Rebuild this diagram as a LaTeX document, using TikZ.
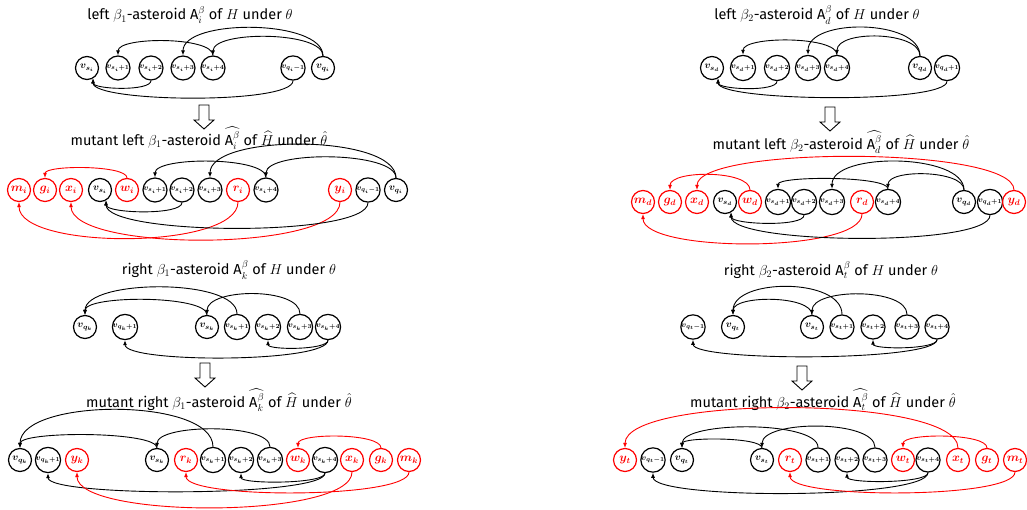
\documentclass[tikz,border=0pt]{standalone}
\usepackage{amsmath}
\usepackage{fontspec}
\setmainfont{Fira Sans}
\usetikzlibrary{arrows.meta}

\tikzset{
  vx/.style={circle,draw,line width=1.2pt,minimum size=23pt,inner sep=0pt,font=\boldmath\normalsize},
  vs/.style={vx,font=\boldmath\footnotesize},
  rx/.style={vx,draw=red,text=red,font=\boldmath\large},
  edge/.style={-{Latex[length=5pt,width=4pt]},line width=0.9pt},
  redge/.style={edge,red},
  hop/.style={to path={.. controls +(0,-#1) and +(0,-#1) .. (\tikztotarget)}},
  dip/.style={to path={.. controls +(0,#1) and +(0,#1) .. (\tikztotarget)}},
  ttl/.style={font=\fontsize{14.5}{17}\selectfont},
  hollow/.style={draw,line width=0.9pt,fill=white}
}

% hollow arrow pointing down, top centre at (#1,#2)
\newcommand{\hollowdown}[2]{\draw[hollow] ({#1-5},#2) -- ({#1+5},#2) -- ({#1+5},{#2+15}) -- ({#1+10},{#2+15}) -- (#1,{#2+24}) -- ({#1-10},{#2+15}) -- ({#1-5},{#2+15}) -- cycle;}

\begin{document}
\begin{tikzpicture}[x=1pt,y=-1pt]
  \useasboundingbox (0,0) rectangle (1027,510);

  % left beta_1
  \node[ttl] (t1) at (190,15) {left $\beta_1$-asteroid $\text{A}_i^{\beta}$ of $H$ under $\theta$};
  \node[vx] (L1s0) at (87,68) {$v_{s_i}$};
  \node[vs] (L1s1) at (118,68) {$v_{s_i+1}$};
  \node[vs] (L1s2) at (151,68) {$v_{s_i+2}$};
  \node[vs] (L1s3) at (183,68) {$v_{s_i+3}$};
  \node[vs] (L1s4) at (213,68) {$v_{s_i+4}$};
  \node[vs] (L1qm) at (293,68) {$v_{q_i-1}$};
  \node[vx] (L1q) at (323,68) {$v_{q_i}$};
  \draw[edge] (L1s4.north) to[hop=19] (L1s1.north);
  \draw[edge] (L1q.north) to[hop=37] (L1s3.north);
  \draw[edge] (L1q.north) to[hop=25] (L1s4.north);
  \draw[edge] (L1s2.south) to[dip=11] (L1s0.-60);
  \draw[edge] (L1qm.south) to[dip=24] (L1s0.-60);
  \hollowdown{204}{105}

  % mutant left beta_1
  \node[ttl] (t2) at (199,138) {mutant left $\beta_1$-asteroid $\widehat{\text{A}_i^{\beta}}$ of $\widehat{H}$ under $\hat{\theta}$};
  \node[rx] (ML1m) at (19,190) {$m_i$};
  \node[rx] (ML1g) at (45,190) {$g_i$};
  \node[rx] (ML1x) at (71,190) {$x_i$};
  \node[vx] (ML1s0) at (100,190) {$v_{s_i}$};
  \node[rx] (ML1w) at (127,190) {$w_i$};
  \node[vs] (ML1s1) at (155,190) {$v_{s_i+1}$};
  \node[vs] (ML1s2) at (182,190) {$v_{s_i+2}$};
  \node[vs] (ML1s3) at (210,190) {$v_{s_i+3}$};
  \node[rx] (ML1r) at (238,190) {$r_i$};
  \node[vs] (ML1s4) at (266,190) {$v_{s_i+4}$};
  \node[rx] (ML1y) at (340,190) {$y_i$};
  \node[vs] (ML1qm) at (368,190) {$v_{q_i-1}$};
  \node[vx] (ML1q) at (396,190) {$v_{q_i}$};
  \draw[redge] (ML1w.north) to[hop=13] (ML1g.north);
  \draw[redge] (ML1r.south) to[dip=48] (ML1m.south);
  \draw[redge] (ML1y.south) to[dip=50] (ML1x.south);
  \draw[edge] (ML1s4.north) to[hop=21] (ML1s1.north);
  \draw[edge] (ML1q.north) to[hop=44] (ML1s3.north);
  \draw[edge] (ML1q.north) to[hop=27] (ML1s4.north);
  \draw[edge] (ML1s2.south) to[dip=13] (ML1s0.-60);
  \draw[edge] (ML1qm.south) to[dip=35] (ML1s0.-60);

  % right beta_1
  \node[ttl] (t3) at (229,270) {right $\beta_1$-asteroid $\text{A}_k^{\beta}$ of $H$ under $\theta$};
  \node[vx] (R1q) at (85,327) {$v_{q_k}$};
  \node[vs] (R1qp) at (125,327) {$v_{q_k+1}$};
  \node[vx] (R1s0) at (207,327) {$v_{s_k}$};
  \node[vs] (R1s1) at (237,327) {$v_{s_k+1}$};
  \node[vs] (R1s2) at (268,327) {$v_{s_k+2}$};
  \node[vs] (R1s3) at (300,327) {$v_{s_k+3}$};
  \node[vs] (R1s4) at (328,327) {$v_{s_k+4}$};
  \draw[edge] (R1s1.north) to[hop=36] (R1q.north);
  \draw[edge] (R1s0.north) to[hop=20] (R1q.north);
  \draw[edge] (R1s3.north) to[hop=27] (R1s0.north);
  \draw[edge] (R1s4.south) to[dip=10] (R1s2.south);
  \draw[edge] (R1s4.south) to[dip=23] (R1qp.south);
  \hollowdown{205}{363}

  % mutant right beta_1
  \node[ttl] (t4) at (219,400) {mutant right $\beta_1$-asteroid $\widehat{\text{A}_k^{\beta}}$ of $\widehat{H}$ under $\hat{\theta}$};
  \node[vx] (MR1q) at (20,460) {$v_{q_k}$};
  \node[vs] (MR1qp) at (48,460) {$v_{q_k+1}$};
  \node[rx] (MR1y) at (77,460) {$y_k$};
  \node[vx] (MR1s0) at (157,460) {$v_{s_k}$};
  \node[rx] (MR1r) at (186,460) {$r_k$};
  \node[vs] (MR1s1) at (213,460) {$v_{s_k+1}$};
  \node[vs] (MR1s2) at (241,460) {$v_{s_k+2}$};
  \node[vs] (MR1s3) at (270,460) {$v_{s_k+3}$};
  \node[rx] (MR1w) at (298,460) {$w_k$};
  \node[vs] (MR1s4) at (325,460) {$v_{s_k+4}$};
  \node[rx] (MR1x) at (352,460) {$x_k$};
  \node[rx] (MR1g) at (381,460) {$g_k$};
  \node[rx] (MR1m) at (409,460) {$m_k$};
  \draw[edge] (MR1s1.north) to[hop=50] (MR1q.north);
  \draw[edge] (MR1s0.north) to[hop=17] (MR1q.north);
  \draw[edge] (MR1s3.north) to[hop=24] (MR1s0.north);
  \draw[edge] (MR1s4.south) to[dip=11] (MR1s2.south);
  \draw[edge] (MR1s4.south) to[dip=24] (MR1qp.south);
  \draw[redge] (MR1g.north) to[hop=15] (MR1w.north);
  \draw[redge] (MR1m.south) to[dip=27] (MR1r.south);
  \draw[redge] (MR1x.south) to[dip=47] (MR1y.south);

  % left beta_2
  \node[ttl] (t5) at (817,15) {left $\beta_2$-asteroid $\text{A}_d^{\beta}$ of $H$ under $\theta$};
  \node[vx] (L2s0) at (712,68) {$v_{s_d}$};
  \node[vs] (L2s1) at (743,68) {$v_{s_d+1}$};
  \node[vs] (L2s2) at (777,68) {$v_{s_d+2}$};
  \node[vs] (L2s3) at (808,68) {$v_{s_d+3}$};
  \node[vs] (L2s4) at (837,68) {$v_{s_d+4}$};
  \node[vx] (L2q) at (920,68) {$v_{q_d}$};
  \node[vs] (L2qp) at (947,68) {$v_{q_d+1}$};
  \draw[edge] (L2s4.north) to[hop=19] (L2s1.north);
  \draw[edge] (L2q.north) to[hop=37] (L2s3.north);
  \draw[edge] (L2q.north) to[hop=25] (L2s4.north);
  \draw[edge] (L2s2.south) to[dip=11] (L2s0.-60);
  \draw[edge] (L2qp.south) to[dip=23] (L2s0.-60);
  \hollowdown{830}{107}

  % mutant left beta_2
  \node[ttl] (t6) at (841,142) {mutant left $\beta_2$-asteroid $\widehat{\text{A}_d^{\beta}}$ of $\widehat{H}$ under $\hat{\theta}$};
  \node[rx] (ML2m) at (643,202) {$m_d$};
  \node[rx] (ML2g) at (670,202) {$g_d$};
  \node[rx] (ML2x) at (697,202) {$x_d$};
  \node[vx] (ML2s0) at (725,202) {$v_{s_d}$};
  \node[rx] (ML2w) at (750,202) {$w_d$};
  \node[vs] (ML2s1) at (778,202) {$v_{s_d+1}$};
  \node[vs] (ML2s2) at (804,202) {$v_{s_d+2}$};
  \node[vs] (ML2s3) at (832,202) {$v_{s_d+3}$};
  \node[rx] (ML2r) at (862,202) {$r_d$};
  \node[vs] (ML2s4) at (888,202) {$v_{s_d+4}$};
  \node[vx] (ML2q) at (964,202) {$v_{q_d}$};
  \node[vs] (ML2qp) at (990,202) {$v_{q_d+1}$};
  \node[rx] (ML2y) at (1014,202) {$y_d$};
  \draw[redge] (ML2w.north) to[hop=20] (ML2g.north);
  \draw[redge] (ML2y.north) to[hop=44] (ML2x.north);
  \draw[redge] (ML2r.south) to[dip=39] (ML2m.south);
  \draw[edge] (ML2s4.north) to[hop=13] (ML2s1.north);
  \draw[edge] (ML2q.north) to[hop=37] (ML2s3.north);
  \draw[edge] (ML2q.north) to[hop=20] (ML2s4.north);
  \draw[edge] (ML2s2.south) to[dip=12] (ML2s0.-60);
  \draw[edge] (ML2qp.south) to[dip=32] (ML2s0.-60);

  % right beta_2
  \node[ttl] (t7) at (831,270) {right $\beta_2$-asteroid $\text{A}_t^{\beta}$ of $H$ under $\theta$};
  \node[vs] (R2qm) at (693,327) {$v_{q_t-1}$};
  \node[vx] (R2q) at (733,327) {$v_{q_t}$};
  \node[vx] (R2s0) at (812,327) {$v_{s_t}$};
  \node[vs] (R2s1) at (842,327) {$v_{s_t+1}$};
  \node[vs] (R2s2) at (873,327) {$v_{s_t+2}$};
  \node[vs] (R2s3) at (907,327) {$v_{s_t+3}$};
  \node[vs] (R2s4) at (937,327) {$v_{s_t+4}$};
  \draw[edge] (R2s1.north) to[hop=37] (R2q.north);
  \draw[edge] (R2s0.north) to[hop=20] (R2q.north);
  \draw[edge] (R2s3.north) to[hop=27] (R2s0.north);
  \draw[edge] (R2s4.south) to[dip=10] (R2s2.south);
  \draw[edge] (R2s4.south) to[dip=22] (R2qm.south);
  \hollowdown{802}{366}

  % mutant right beta_2
  \node[ttl] (t8) at (823,400) {mutant right $\beta_2$-asteroid $\widehat{\text{A}_t^{\beta}}$ of $\widehat{H}$ under $\hat{\theta}$};
  \node[rx] (MR2y) at (625,460) {$y_t$};
  \node[vs] (MR2qm) at (653,460) {$v_{q_t-1}$};
  \node[vx] (MR2q) at (682,460) {$v_{q_t}$};
  \node[vx] (MR2s0) at (762,460) {$v_{s_t}$};
  \node[rx] (MR2r) at (790,460) {$r_t$};
  \node[vs] (MR2s1) at (818,460) {$v_{s_t+1}$};
  \node[vs] (MR2s2) at (847,460) {$v_{s_t+2}$};
  \node[vs] (MR2s3) at (875,460) {$v_{s_t+3}$};
  \node[rx] (MR2w) at (903,460) {$w_t$};
  \node[vs] (MR2s4) at (928,460) {$v_{s_t+4}$};
  \node[rx] (MR2x) at (958,460) {$x_t$};
  \node[rx] (MR2g) at (987,460) {$g_t$};
  \node[rx] (MR2m) at (1015,460) {$m_t$};
  \draw[edge] (MR2s1.north) to[hop=27] (MR2q.north);
  \draw[edge] (MR2s0.north) to[hop=11] (MR2q.north);
  \draw[edge] (MR2s3.north) to[hop=28] (MR2s0.north);
  \draw[edge] (MR2s4.south) to[dip=11] (MR2s2.south);
  \draw[edge] (MR2s4.south) to[dip=27] (MR2qm.south);
  \draw[redge] (MR2x.north) to[hop=53] (MR2y.north);
  \draw[redge] (MR2g.north) to[hop=15] (MR2w.north);
  \draw[redge] (MR2m.south) to[dip=27] (MR2r.south);
\end{tikzpicture}
\end{document}
